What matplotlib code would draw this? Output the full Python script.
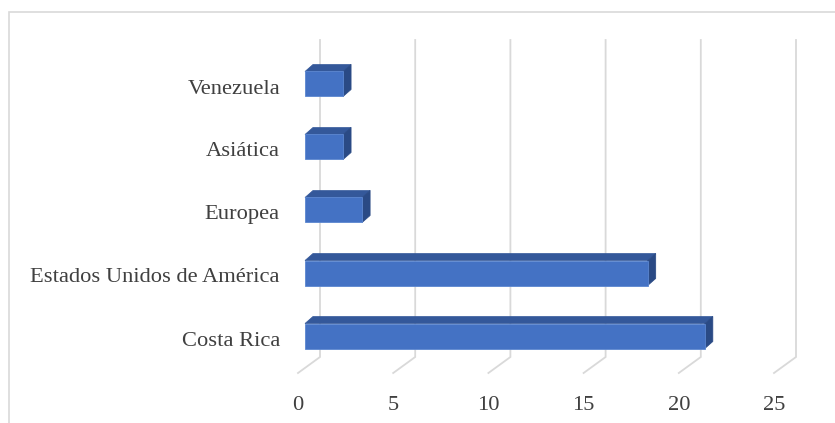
import matplotlib.pyplot as plt
from matplotlib.patches import Polygon, Rectangle

categorias = ["Costa Rica", "Estados Unidos de América", "Europea", "Asiática", "Venezuela"]
valores = [21, 18, 3, 2, 2]
ticks = [0, 5, 10, 15, 20, 25]

W, H = 835, 423
fig = plt.figure(figsize=(W / 100, H / 100), dpi=100)
ax = fig.add_axes([0, 0, 1, 1])
ax.axis("off")

# escala: 19.04 px por unidad, 63 px por categoria
sx, sy = 19.04, 63.0
x0, y0 = 305, 87  # pixel del 0 (frente de las barras) y de la primera categoria (desde abajo)
ax.set_xlim(-x0 / sx, (W - x0) / sx)
ax.set_ylim(-y0 / sy, (H - y0) / sy)

def px(dx):
    return dx / sx

def py(dy):
    return dy / sy

def ytop(p):
    # pixel desde arriba -> unidad de datos
    return (H - p - y0) / sy

grid_col = "#D9D9D9"
txt_col = "#404040"
fs = 16.2
# lineas de la pared del fondo y del piso
for t in ticks:
    xb = t + px(15)
    xf = t - px(7)
    ax.plot([xb, xb, xf], [ytop(40), ytop(357), ytop(373)], color=grid_col, lw=1.3,
            solid_joinstyle="miter", zorder=1)
    ax.text(xf, ytop(405), str(t), ha="center", va="center", fontsize=fs,
            family="Liberation Serif", color=txt_col)

# barras 3D
h = py(25) / 2
ddx, ddy = px(8), py(7)
for i, (cat, v) in enumerate(zip(categorias, valores)):
    y = i
    top = Polygon([(0, y + h), (v, y + h), (v + ddx, y + h + ddy), (ddx, y + h + ddy)],
                  closed=True, facecolor="#34589A", edgecolor="#34589A", lw=0.5, zorder=3)
    side = Polygon([(v, y - h), (v, y + h), (v + ddx, y + h + ddy), (v + ddx, y - h + ddy)],
                   closed=True, facecolor="#2A4A85", edgecolor="#2A4A85", lw=0.5, zorder=3)
    front = Rectangle((0, y - h), v, 2 * h, facecolor="#4472C4", edgecolor="#5B86D0",
                      lw=0.6, zorder=4)
    ax.add_patch(top)
    ax.add_patch(side)
    ax.add_patch(front)
    ax.text(-px(25), y - py(5), cat, ha="right", va="center", fontsize=fs,
            family="Liberation Serif", color=txt_col)

# borde del grafico
ax.add_patch(Rectangle((-px(x0 - 8.5), ytop(H + 20)), px(W + 40), ytop(12.5) - ytop(H + 20),
                       fill=False, edgecolor="#D9D9D9", lw=1.2, zorder=0))

fig.savefig("out.png", dpi=100)
